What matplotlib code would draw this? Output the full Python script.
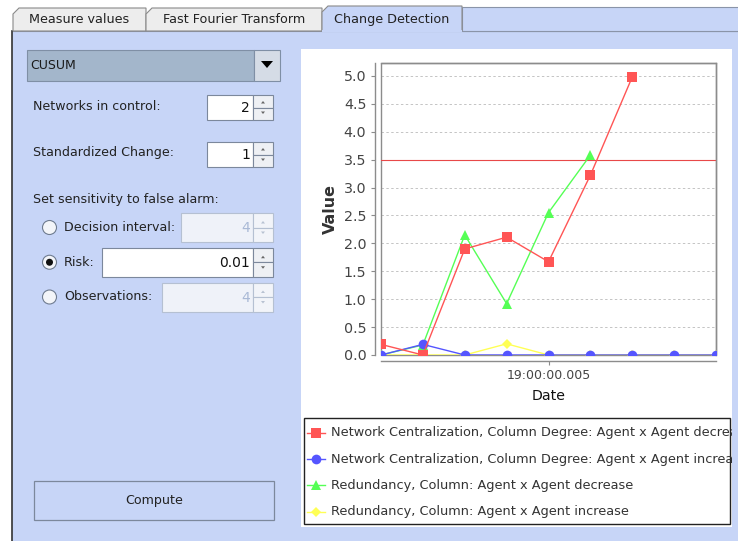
import matplotlib
matplotlib.use("Agg")
import matplotlib.pyplot as plt
from matplotlib.patches import Rectangle, Polygon, Circle
from matplotlib.lines import Line2D

plt.rcParams['font.family'] = ['DejaVu Sans']

# data
time_ms = [1, 2, 3, 4, 5, 6, 7, 8, 9]
tick_pos = [5]
tick_labels = ['19:00:00.005']
threshold = 3.5

nc_decrease = [0.19, 0.0, 1.90, 2.11, 1.67, 3.22, 4.98]
nc_increase = [0.0, 0.19, 0.0, 0.0, 0.0, 0.0, 0.0, 0.0, 0.0]
red_decrease = [0.0, 0.18, 2.15, 0.92, 2.55, 3.58]
red_increase = [0.0, 0.0, 0.0, 0.2, 0.0, 0.0, 0.0, 0.0, 0.0]

series_names = ['Network Centralization, Column Degree: Agent x Agent decrease',
                'Network Centralization, Column Degree: Agent x Agent increase',
                'Redundancy, Column: Agent x Agent decrease',
                'Redundancy, Column: Agent x Agent increase']
series_vals = [nc_decrease, nc_increase, red_decrease, red_increase]
series_colors = ['#FF5555', '#5555FF', '#55FF55', '#FFFF55']
series_markers = ['s', 'o', '^', 'D']
series_msize = [7, 7, 7.5, 5]

tab_names = ['Measure values', 'Fast Fourier Transform', 'Change Detection']
method = 'CUSUM'
spin_labels = ['Networks in control:', 'Standardized Change:']
spin_values = ['2', '1']
radio_labels = ['Decision interval:', 'Risk:', 'Observations:']
radio_values = ['4', '0.01', '4']
radio_selected = 1

W, H = 738, 541
PANEL = '#C7D5F7'
UI_FS = 9.1
fig = plt.figure(figsize=(W / 100, H / 100), dpi=100)
fig.patch.set_facecolor('white')

ui = fig.add_axes([0, 0, 1, 1])
ui.set_xlim(0, W)
ui.set_ylim(H, 0)
ui.axis('off')

def rect(x0, y0, x1, y1, fc, ec='none', lw=1.0, z=1):
    ui.add_patch(Rectangle((x0, y0), x1 - x0, y1 - y0, facecolor=fc,
                           edgecolor=ec, linewidth=lw, zorder=z))

# main panel
rect(12, 31, W + 2, H + 2, PANEL, z=0)
ui.plot([11.5, 11.5], [31, H], color='#333333', lw=1.2, zorder=2)
ui.plot([11.5, W], [31, 31], color='#8A94A8', lw=0.8, zorder=1)
rect(462, 7, W + 2, 31, PANEL, ec='#8A94A8', lw=0.8, z=1)

# tabs
tab_x = [13, 146, 322, 462]
for i, name in enumerate(tab_names):
    x0, x1 = tab_x[i], tab_x[i + 1]
    sel = (i == 2)
    top = 6 if sel else 8
    fc = PANEL if sel else '#EDEDED'
    ui.add_patch(Polygon([(x0, 31), (x0, top + 6), (x0 + 6, top), (x1, top), (x1, 31)],
                         closed=True, facecolor=fc, edgecolor='#8A8A8A', lw=0.8, zorder=3))
    if sel:
        ui.plot([x0 + 0.6, x1 - 0.6], [31, 31], color=PANEL, lw=1.5, zorder=4)
    ui.text((x0 + x1) / 2, 19.5, name, ha='center', va='center', fontsize=9.2,
            color='#222222', zorder=5)

# combo box
rect(27, 49.5, 254, 80.5, '#A3B6CB', ec='#7F8FA5', lw=0.8, z=2)
rect(254, 49.5, 280, 80.5, '#D5DCE6', ec='#7F8FA5', lw=0.8, z=2)
ui.add_patch(Polygon([(261, 61), (273, 61), (267, 68)], closed=True,
                     facecolor='black', edgecolor='none', zorder=3))
ui.text(30, 65.5, method, ha='left', va='center', fontsize=9, color='#1A1A1A', zorder=3)

def spinner(x0, y0, y1, value, enabled=True):
    fc = 'white' if enabled else '#EFF2F9'
    ec = '#7C889C' if enabled else '#B5C0D2'
    tc = '#111111' if enabled else '#A9B9D6'
    rect(x0, y0, 253, y1, fc, ec=ec, lw=0.8, z=2)
    ym = (y0 + y1) / 2
    rect(253, y0, 273, ym, '#EEF0F4' if enabled else '#F2F4F9', ec=ec, lw=0.8, z=2)
    rect(253, ym, 273, y1, '#EEF0F4' if enabled else '#F2F4F9', ec=ec, lw=0.8, z=2)
    ac = '#666666' if enabled else '#B8C2D2'
    cx = 263
    ui.add_patch(Polygon([(cx - 2, ym - 4), (cx + 2, ym - 4), (cx, ym - 6.5)], closed=True,
                         facecolor=ac, edgecolor='none', zorder=3))
    ui.add_patch(Polygon([(cx - 2, ym + 4), (cx + 2, ym + 4), (cx, ym + 6.5)], closed=True,
                         facecolor=ac, edgecolor='none', zorder=3))
    ui.text(250, ym + 0.5, value, ha='right', va='center', fontsize=10, color=tc, zorder=3)

# spinners
spin_rows = [(95, 120, 106), (142, 167, 152.5)]
for (y0, y1, ty), lab, val in zip(spin_rows, spin_labels, spin_values):
    ui.text(33, ty, lab, ha='left', va='center', fontsize=UI_FS, color='#222222', zorder=3)
    spinner(207, y0, y1, val)

ui.text(33, 199.5, 'Set sensitivity to false alarm:', ha='left', va='center',
        fontsize=UI_FS, color='#222222', zorder=3)

radio_rows = [(213, 242, 181), (247.5, 277, 102), (282.5, 311.5, 162)]
for i, ((y0, y1, fx), lab, val) in enumerate(zip(radio_rows, radio_labels, radio_values)):
    cy = (y0 + y1) / 2
    ui.add_patch(Circle((49.5, cy), 7, facecolor='#F3F5F9', edgecolor='#6F7C90',
                        lw=0.8, zorder=3))
    if i == radio_selected:
        ui.add_patch(Circle((49.5, cy), 3.5, facecolor='#111111', edgecolor='none', zorder=4))
    ui.text(64, cy, lab, ha='left', va='center', fontsize=UI_FS, color='#222222', zorder=3)
    spinner(fx, y0, y1, val, enabled=(i == radio_selected))

# compute button
rect(34, 481, 274, 520, PANEL, ec='#7C889C', lw=0.9, z=2)
ui.text(154, 500.5, 'Compute', ha='center', va='center', fontsize=UI_FS, color='#222222', zorder=3)

# chart panel
rect(301, 49, 731.5, 527, 'white', z=1)

# plot area
L, R, T, B = 381, 716, 63, 355
ax = fig.add_axes([L / W, 1 - B / H, (R - L) / W, (B - T) / H])
ax.set_facecolor('white')
ax.set_zorder(5)

for vals, c, m, ms in reversed(list(zip(series_vals, series_colors, series_markers, series_msize))):
    ax.plot(time_ms[:len(vals)], vals, color=c, lw=1.0, marker=m, markersize=ms,
            markeredgewidth=0, zorder=3)

ax.axhline(threshold, color='#E84848', lw=0.8, zorder=2)
ax.set_xlim(time_ms[0], time_ms[-1])
ax.set_ylim(0, 5.23)
ax.set_yticks([0.5 * k for k in range(11)])
ax.set_yticklabels(['%.1f' % (0.5 * k) for k in range(11)])
ax.set_xticks(tick_pos)
ax.set_xticklabels(tick_labels)
ax.yaxis.grid(True, color='#C4C4C4', linestyle=(0, (2.5, 2.5)), lw=0.7)
ax.set_axisbelow(True)

for s in ['top', 'right']:
    ax.spines[s].set_color('#8C8C8C')
    ax.spines[s].set_linewidth(1.0)
for s in ['left', 'bottom']:
    ax.spines[s].set_position(('outward', 4))
    ax.spines[s].set_color('#8C8C8C')
    ax.spines[s].set_linewidth(1.0)
ax.add_patch(Rectangle((0, 0), 1, 1, transform=ax.transAxes, fill=False,
                       edgecolor='#8C8C8C', lw=1.0, zorder=1, clip_on=False))
ax.tick_params(axis='both', direction='out', length=3, width=0.8, color='#8C8C8C',
               labelcolor='#444444', labelsize=10.3)
ax.tick_params(axis='x', pad=3, labelsize=9)
ax.set_ylabel('Value', fontsize=11.5, fontweight='bold', color='#333333')
ax.yaxis.set_label_coords(-0.128, 0.5)
ax.set_xlabel('Date', fontsize=10.2, color='#111111')
ax.xaxis.set_label_coords(0.5, -0.115)

# legend box (long names are clipped at the panel edge, as in the original)
LX0, LX1, LY0, LY1 = 303, 731.5, 418, 525
lg = fig.add_axes([LX0 / W, 1 - LY1 / H, (LX1 - LX0) / W, (LY1 - LY0) / H])
lg.set_xlim(LX0, LX1)
lg.set_ylim(LY1, LY0)
lg.axis('off')
lg.set_zorder(6)
lg.add_patch(Rectangle((303.5, 418.5), 729.5 - 303.5, 524.5 - 418.5, fill=False,
                       edgecolor='#222222', lw=1.0, clip_on=False))
for i, (name, c, m, ms) in enumerate(zip(series_names, series_colors, series_markers, series_msize)):
    y = 433 + 26.2 * i
    lg.add_line(Line2D([307, 325], [y, y], color=c, lw=1.0))
    lg.add_line(Line2D([316], [y], color=c, marker=m, markersize=ms, markeredgewidth=0))
    lg.text(331, y, name, ha='left', va='center', fontsize=9.3, color='#333333', clip_on=True)

fig.savefig('out.png', dpi=100)
